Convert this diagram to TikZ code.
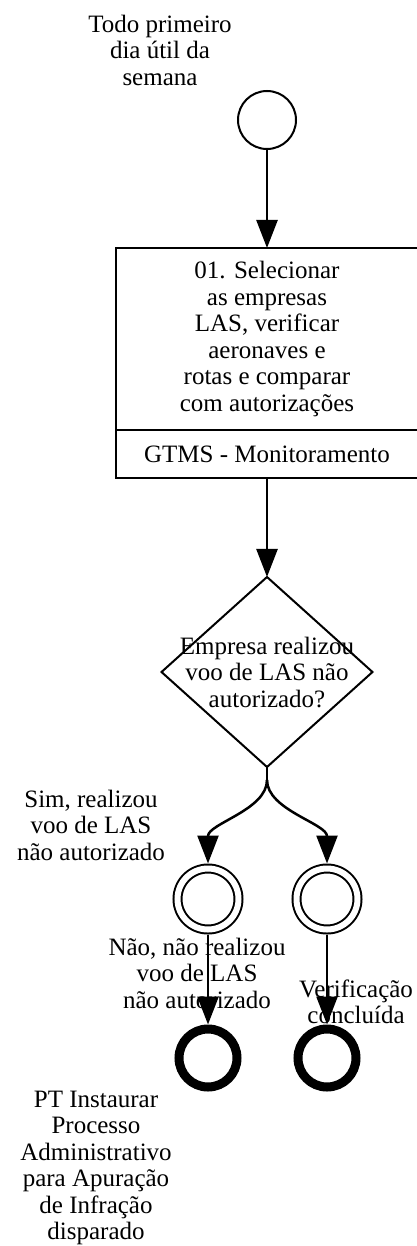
\documentclass[tikz,border=0pt]{standalone}
\usepackage{fontspec}
\setmainfont{Liberation Serif}
\usetikzlibrary{arrows.meta,positioning,shapes.geometric}
\tikzset{
    every node/.style={font=\fontsize{25}{26.5}\selectfont},
    event node/.style={circle,draw,line width=2pt,minimum size=58pt,inner sep=0pt},
    task node/.style={draw,line width=2pt,minimum width=302pt,inner sep=0pt,outer sep=0pt,align=center},
    gate node/.style={diamond,draw,line width=2pt,minimum width=211pt,minimum height=190pt,inner sep=0pt,outer sep=0pt},
    inter node/.style={circle,draw,line width=2pt,double,double distance=6pt,minimum size=61pt,inner sep=0pt,outer sep=5pt},
    end node/.style={circle,draw,line width=9pt,minimum size=58pt,inner sep=0pt},
    text node/.style={align=center,inner sep=0pt},
    flow/.style={->,line width=2.5pt}
}

\begin{document}
\begin{tikzpicture}[x=1pt,y=-1pt,>={Triangle[length=28pt,width=21pt]}]
    \useasboundingbox (0,0) rectangle (416,1246);

    \node[event node] (start) at (267,120) {};
    \node[text node] (startlbl) at (160,50) {Todo primeiro\\dia útil da\\semana};
    \node[task node,minimum height=182pt] (task) [below=98pt of start]
        {01. Selecionar\\as empresas\\LAS, verificar\\aeronaves e\\rotas e comparar\\com autorizações};
    \node[task node,minimum height=48pt] (role) [below=0pt of task] {GTMS - Monitoramento};
    \node[gate node] (gate) [below=99pt of role] {};
    \node[text node] (gatelbl) at (gate) {Empresa realizou\\voo de LAS não\\autorizado?};
    \coordinate[below=13pt of gate] (split);

    \node[inter node] (yes) at (208,899) {};
    \node[inter node] (no) at (327,899) {};
    \node[end node] (endyes) [below=90pt of yes] {};
    \node[end node] (endno) [below=90pt of no] {};

    \node[text node] (yeslbl) at (91,825) {Sim, realizou\\voo de LAS\\não autorizado};
    \node[text node] (nolbl) at (197,973) {Não, não realizou\\voo de LAS\\não autorizado};
    \node[text node] (donelbl) at (356,1002) {Verificação\\concluída};
    \node[text node] (endlbl) at (96,1168) {PT Instaurar\\Processo\\Administrativo\\para Apuração\\de Infração\\disparado};

    \draw[flow] (start) -- (task);
    \draw[flow] (role) -- (gate);
    \draw[line width=2.5pt] (gate.south) -- (split);
    \draw[flow] (split) .. controls +(0,30) and +(0,-40) .. (yes.north);
    \draw[flow] (split) .. controls +(0,30) and +(0,-40) .. (no.north);
    \draw[flow] (yes) -- (endyes);
    \draw[flow] (no) -- (endno);
\end{tikzpicture}
\end{document}
